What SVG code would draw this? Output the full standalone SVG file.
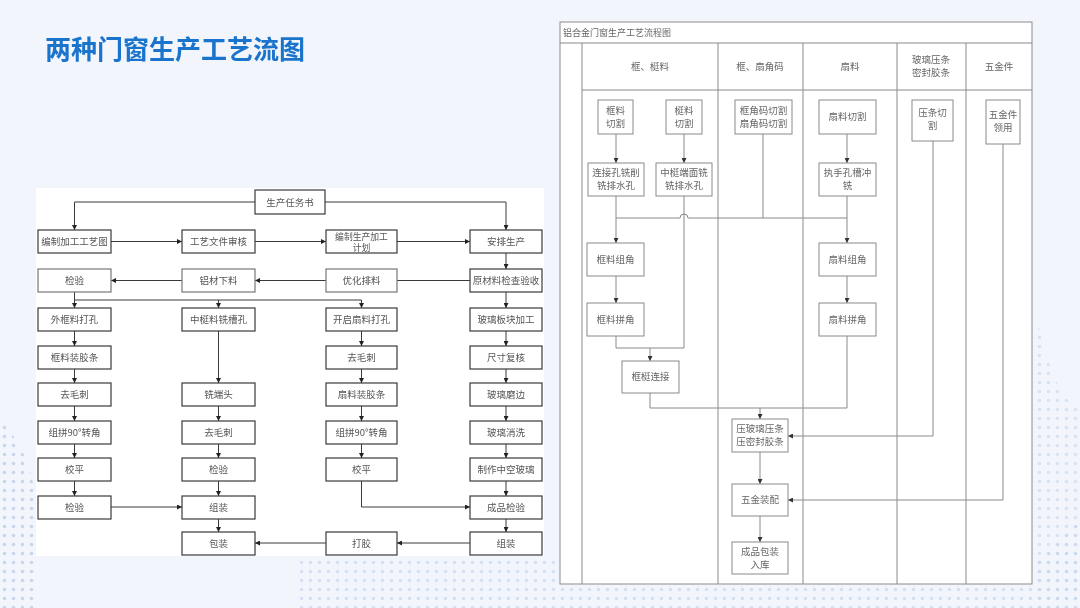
<svg xmlns="http://www.w3.org/2000/svg" width="1080" height="608" viewBox="0 0 1080 608">
<defs>
<style>
.bx{fill:#fff;stroke:#3a3a3a;stroke-width:1.2}
.bl{fill:#fff;stroke:#8a8a8a;stroke-width:1}
.t{font-family:"Noto Sans CJK SC","Noto Sans",sans-serif;font-size:9.5px;fill:#555;text-anchor:middle}
.ts{font-family:"Noto Sans CJK SC","Noto Sans",sans-serif;font-size:8.8px;fill:#555;text-anchor:middle}
.tr{font-family:"Noto Sans CJK SC","Noto Sans",sans-serif;font-size:9.5px;fill:#666;text-anchor:middle}
.ln{fill:none;stroke:#3a3a3a;stroke-width:1}
.lr{fill:none;stroke:#8a8a8a;stroke-width:1}
.ar{marker-end:url(#a)}
.ab{marker-end:url(#b)}
</style>
<marker id="a" viewBox="0 0 6 6" refX="6" refY="3" markerWidth="5" markerHeight="5" orient="auto"><path d="M0,0L6,3L0,6z" fill="#222"/></marker>
<marker id="b" viewBox="0 0 6 6" refX="6" refY="3" markerWidth="5" markerHeight="5" orient="auto"><path d="M0,0L6,3L0,6z" fill="#333"/></marker>
<pattern id="dots" width="9" height="9" patternUnits="userSpaceOnUse"><circle cx="4.5" cy="4.5" r="1.8" fill="#b8cbe9"/></pattern>
</defs>
<rect width="1080" height="608" fill="#f2f6fc"/>
<g id="decor" opacity="0.75">
<path d="M0,420 Q30,450 36,500 L36,608 L0,608 Z" fill="url(#dots)"/>
<path d="M300,560 Q600,548 900,575 Q1000,585 1040,560 L1080,520 L1080,608 L300,608 Z" fill="url(#dots)" opacity="0.7"/>
<path d="M1032,300 Q1060,420 1080,400 L1080,608 L1032,608 Z" fill="url(#dots)" opacity="0.6"/>
</g>
<text x="45" y="59" font-family="'Noto Sans CJK SC','Noto Sans',sans-serif" font-size="26" font-weight="700" fill="#1b74cc">两种门窗生产工艺流图</text>

<!-- left diagram -->
<rect x="36" y="188" width="508" height="368" fill="#fff"/>
<g id="left-connectors">
<path class="ln ar" d="M255,202H74.5V230"/>
<path class="ln ar" d="M325,202H506V230"/>
<path class="ln ar" d="M111,241.5H182"/>
<path class="ln ar" d="M255,241.5H326"/>
<path class="ln ar" d="M397,241.5H470"/>
<path class="ln ar" d="M506,253V269"/>
<path class="ln" d="M470,280.5H397"/>
<path class="ln ar" d="M326,280.5H255"/>
<path class="ln ar" d="M182,280.5H111"/>
<path class="ln ar" d="M74.5,292V308"/>
<path class="ln ar" d="M74.5,300H361.5V308"/>
<path class="ln ar" d="M218.5,300V308"/>
<path class="ln ar" d="M506,292V308"/>
<path class="ln ar" d="M74.5,331V346"/>
<path class="ln ar" d="M74.5,369V383"/>
<path class="ln ar" d="M74.5,406V421"/>
<path class="ln ar" d="M74.5,444V458"/>
<path class="ln ar" d="M74.5,481V496"/>
<path class="ln ar" d="M111,507H182"/>
<path class="ln ar" d="M218.5,331V383"/>
<path class="ln ar" d="M218.5,406V421"/>
<path class="ln ar" d="M218.5,444V458"/>
<path class="ln ar" d="M218.5,481V496"/>
<path class="ln ar" d="M218.5,519V532"/>
<path class="ln ar" d="M361.5,331V346"/>
<path class="ln ar" d="M361.5,369V383"/>
<path class="ln ar" d="M361.5,406V421"/>
<path class="ln ar" d="M361.5,444V458"/>
<path class="ln ar" d="M361.5,481V507H470"/>
<path class="ln ar" d="M506,331V346"/>
<path class="ln ar" d="M506,369V383"/>
<path class="ln ar" d="M506,406V421"/>
<path class="ln ar" d="M506,444V458"/>
<path class="ln ar" d="M506,481V496"/>
<path class="ln ar" d="M506,519V532"/>
<path class="ln ar" d="M470,543H397"/>
<path class="ln ar" d="M326,543H255"/>
</g>
<g id="L0"><rect class="bx" x="255" y="190" width="70" height="24"/><text class="t" x="290" y="205.5">生产任务书</text></g>
<g id="L1a"><rect class="bx" x="38" y="230" width="73" height="23"/><text class="t" x="74.5" y="245">编制加工工艺图</text></g>
<g id="L1b"><rect class="bx" x="182" y="230" width="73" height="23"/><text class="t" x="218.5" y="245">工艺文件审核</text></g>
<g id="L1c"><rect class="bx" x="326" y="230" width="71" height="23"/><text class="ts" x="361.5" y="239.5">编制生产加工</text><text class="ts" x="361.5" y="251">计划</text></g>
<g id="L1d"><rect class="bx" x="470" y="230" width="72" height="23"/><text class="t" x="506" y="245">安排生产</text></g>
<g id="L2a"><rect class="bx" x="38" y="269" width="73" height="23" style="stroke:#777"/><text class="t" x="74.5" y="284">检验</text></g>
<g id="L2b"><rect class="bx" x="182" y="269" width="73" height="23" style="stroke:#777"/><text class="t" x="218.5" y="284">铝材下料</text></g>
<g id="L2c"><rect class="bx" x="326" y="269" width="71" height="23" style="stroke:#777"/><text class="t" x="361.5" y="284">优化排料</text></g>
<g id="L2d"><rect class="bx" x="470" y="269" width="72" height="23"/><text class="t" x="506" y="284">原材料检查验收</text></g>
<g id="L3a"><rect class="bx" x="38" y="308" width="73" height="23"/><text class="t" x="74.5" y="323">外框料打孔</text></g>
<g id="L3b"><rect class="bx" x="182" y="308" width="73" height="23"/><text class="t" x="218.5" y="323">中梃料铣槽孔</text></g>
<g id="L3c"><rect class="bx" x="326" y="308" width="71" height="23"/><text class="t" x="361.5" y="323">开启扇料打孔</text></g>
<g id="L3d"><rect class="bx" x="470" y="308" width="72" height="23"/><text class="t" x="506" y="323">玻璃板块加工</text></g>
<g id="L4a"><rect class="bx" x="38" y="346" width="73" height="23"/><text class="t" x="74.5" y="361">框料装胶条</text></g>
<g id="L4c"><rect class="bx" x="326" y="346" width="71" height="23"/><text class="t" x="361.5" y="361">去毛刺</text></g>
<g id="L4d"><rect class="bx" x="470" y="346" width="72" height="23"/><text class="t" x="506" y="361">尺寸复核</text></g>
<g id="L5a"><rect class="bx" x="38" y="383" width="73" height="23"/><text class="t" x="74.5" y="398">去毛刺</text></g>
<g id="L5b"><rect class="bx" x="182" y="383" width="73" height="23"/><text class="t" x="218.5" y="398">铣端头</text></g>
<g id="L5c"><rect class="bx" x="326" y="383" width="71" height="23"/><text class="t" x="361.5" y="398">扇料装胶条</text></g>
<g id="L5d"><rect class="bx" x="470" y="383" width="72" height="23"/><text class="t" x="506" y="398">玻璃磨边</text></g>
<g id="L6a"><rect class="bx" x="38" y="421" width="73" height="23"/><text class="t" x="74.5" y="436">组拼90°转角</text></g>
<g id="L6b"><rect class="bx" x="182" y="421" width="73" height="23"/><text class="t" x="218.5" y="436">去毛刺</text></g>
<g id="L6c"><rect class="bx" x="326" y="421" width="71" height="23"/><text class="t" x="361.5" y="436">组拼90°转角</text></g>
<g id="L6d"><rect class="bx" x="470" y="421" width="72" height="23"/><text class="t" x="506" y="436">玻璃消洗</text></g>
<g id="L7a"><rect class="bx" x="38" y="458" width="73" height="23"/><text class="t" x="74.5" y="473">校平</text></g>
<g id="L7b"><rect class="bx" x="182" y="458" width="73" height="23"/><text class="t" x="218.5" y="473">检验</text></g>
<g id="L7c"><rect class="bx" x="326" y="458" width="71" height="23"/><text class="t" x="361.5" y="473">校平</text></g>
<g id="L7d"><rect class="bx" x="470" y="458" width="72" height="23"/><text class="t" x="506" y="473">制作中空玻璃</text></g>
<g id="L8a"><rect class="bx" x="38" y="496" width="73" height="23"/><text class="t" x="74.5" y="511">检验</text></g>
<g id="L8b"><rect class="bx" x="182" y="496" width="73" height="23"/><text class="t" x="218.5" y="511">组装</text></g>
<g id="L8d"><rect class="bx" x="470" y="496" width="72" height="23"/><text class="t" x="506" y="511">成品检验</text></g>
<g id="L9b"><rect class="bx" x="182" y="532" width="73" height="23"/><text class="t" x="218.5" y="547">包装</text></g>
<g id="L9c"><rect class="bx" x="326" y="532" width="71" height="23"/><text class="t" x="361.5" y="547">打胶</text></g>
<g id="L9d"><rect class="bx" x="470" y="532" width="72" height="23"/><text class="t" x="506" y="547">组装</text></g>

<!-- right diagram -->
<g id="swimlanes">
<rect x="560" y="22" width="472" height="562" fill="#fff" stroke="#8a8a8a" stroke-width="1"/>
<path class="lr" d="M560,43H1032M582,90H1032M582,43V584M718,43V584M803,43V584M897,43V584M966,43V584"/>
<text x="563" y="36" font-family="'Noto Sans CJK SC',sans-serif" font-size="9" fill="#666">铝合金门窗生产工艺流程图</text>
<text class="tr" x="650" y="70">框、梃料</text>
<text class="tr" x="760" y="70">框、扇角码</text>
<text class="tr" x="850" y="70">扇料</text>
<text class="tr" x="931" y="63">玻璃压条</text>
<text class="tr" x="931" y="76">密封胶条</text>
<text class="tr" x="999" y="70">五金件</text>
</g>
<g id="right-connectors">
<path class="lr ab" d="M616,134V163"/>
<path class="lr ab" d="M684,134V163"/>
<path class="lr ab" d="M847,134V163"/>
<path class="lr ab" d="M616,196V243"/>
<path class="lr" d="M684,196V348H616V336"/>
<path class="lr ab" d="M650,348V361"/>
<path class="lr" d="M763,134V218"/>
<path class="lr" d="M616,218H680A4,4 0 0 1 688,218H847"/>
<path class="lr ab" d="M847,196V243"/>
<path class="lr ab" d="M616,276V303"/>
<path class="lr ab" d="M847,276V303"/>
<path class="lr" d="M650,393V408H847V336"/>
<path class="lr ab" d="M760,408V419"/>
<path class="lr ab" d="M933,141V436H788"/>
<path class="lr ab" d="M760,452V484"/>
<path class="lr ab" d="M1003,144V500H788"/>
<path class="lr ab" d="M760,516V542"/>
</g>
<g id="R1"><rect class="bl" x="598" y="100" width="35" height="34"/><text class="tr" x="615.5" y="114">框料</text><text class="tr" x="615.5" y="127">切割</text></g>
<g id="R2"><rect class="bl" x="666" y="100" width="36" height="34"/><text class="tr" x="684" y="114">梃料</text><text class="tr" x="684" y="127">切割</text></g>
<g id="R3"><rect class="bl" x="735" y="100" width="57" height="34"/><text class="tr" x="763.5" y="114">框角码切割</text><text class="tr" x="763.5" y="127">扇角码切割</text></g>
<g id="R4"><rect class="bl" x="819" y="100" width="57" height="34"/><text class="tr" x="847.5" y="120">扇料切割</text></g>
<g id="R5"><rect class="bl" x="912" y="100" width="41" height="41"/><text class="tr" x="932.5" y="116">压条切</text><text class="tr" x="932.5" y="129">割</text></g>
<g id="R6"><rect class="bl" x="986" y="100" width="34" height="44"/><text class="tr" x="1003" y="118">五金件</text><text class="tr" x="1003" y="131">领用</text></g>
<g id="R7"><rect class="bl" x="588" y="163" width="56" height="33"/><text class="tr" x="616" y="176">连接孔铣削</text><text class="tr" x="616" y="189">铣排水孔</text></g>
<g id="R8"><rect class="bl" x="656" y="163" width="56" height="33"/><text class="tr" x="684" y="176">中梃端面铣</text><text class="tr" x="684" y="189">铣排水孔</text></g>
<g id="R9"><rect class="bl" x="819" y="163" width="57" height="33"/><text class="tr" x="847.5" y="176">执手孔槽冲</text><text class="tr" x="847.5" y="189">铣</text></g>
<g id="R10"><rect class="bl" x="587" y="243" width="57" height="33"/><text class="tr" x="615.5" y="263">框料组角</text></g>
<g id="R11"><rect class="bl" x="587" y="303" width="57" height="33"/><text class="tr" x="615.5" y="323">框料拼角</text></g>
<g id="R12"><rect class="bl" x="622" y="361" width="57" height="32"/><text class="tr" x="650.5" y="380">框梃连接</text></g>
<g id="R13"><rect class="bl" x="819" y="243" width="57" height="33"/><text class="tr" x="847.5" y="263">扇料组角</text></g>
<g id="R14"><rect class="bl" x="819" y="303" width="57" height="33"/><text class="tr" x="847.5" y="323">扇料拼角</text></g>
<g id="R15"><rect class="bl" x="732" y="419" width="56" height="33"/><text class="tr" x="760" y="432">压玻璃压条</text><text class="tr" x="760" y="445">压密封胶条</text></g>
<g id="R16"><rect class="bl" x="732" y="484" width="56" height="32"/><text class="tr" x="760" y="503">五金装配</text></g>
<g id="R17"><rect class="bl" x="732" y="542" width="56" height="32"/><text class="tr" x="760" y="555">成品包装</text><text class="tr" x="760" y="568">入库</text></g>
</svg>
